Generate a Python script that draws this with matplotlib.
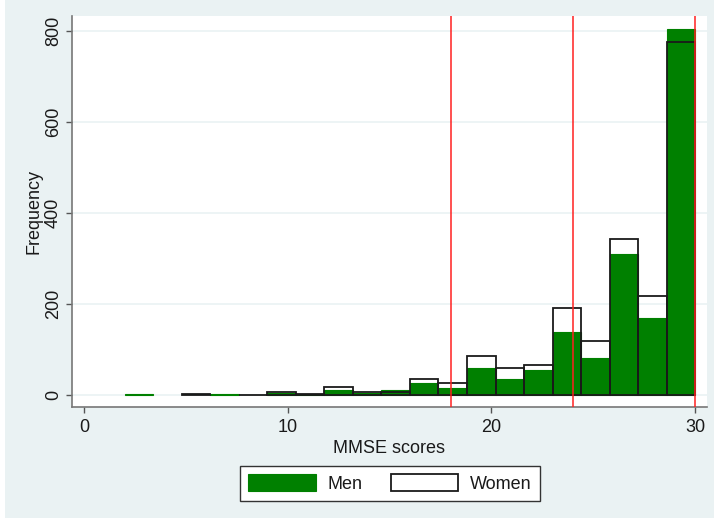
import numpy as np
import matplotlib
matplotlib.use("Agg")
import matplotlib.pyplot as plt
from matplotlib.patches import Patch, Rectangle

plt.rcParams['font.family'] = ['Liberation Sans', 'DejaVu Sans']

# histogram bins (start 2, width 1.4, 20 bins)
bin_start = 2.0
bin_width = 1.4
men = [2, 0, 0, 3, 0, 4, 2, 10, 5, 10, 27, 16, 60, 36, 54, 138, 82, 310, 170, 805]
women = [0, 0, 2, 0, 1, 6, 3, 18, 7, 7, 35, 27, 85, 60, 66, 191, 119, 342, 218, 775]
cutoffs = [18, 24, 30]
xticks = [0, 10, 20, 30]
yticks = [0, 200, 400, 600, 800]

bg = '#EAF2F3'
green = '#008000'
txt = '#1a1a1a'

W, H = 714, 518
fig = plt.figure(figsize=(W / 100, H / 100), dpi=100, facecolor='white')
fig.patches.append(Rectangle((5 / W, 0), 1, 1, transform=fig.transFigure,
                             facecolor=bg, edgecolor='none', zorder=-10))

ax = fig.add_axes([72 / W, 1 - 406.7 / H, (707 - 72) / W, (406.7 - 16) / H])
ax.set_facecolor('white')

left = bin_start + bin_width * np.arange(len(men))
men_h = np.array([v if v > 0 else np.nan for v in men], dtype=float)
women_h = np.array([v if v > 0 else np.nan for v in women], dtype=float)

ax.bar(left, men_h, width=bin_width, align='edge', color=green,
       edgecolor=green, linewidth=0.8, zorder=2)
ax.bar(left, women_h, width=bin_width, align='edge', facecolor='none',
       edgecolor=txt, linewidth=1.3, zorder=3)

for c in cutoffs:
    ax.axvline(c, color='#ff2020', linewidth=1.1, zorder=4)

ax.set_xlim(-0.59, 30.58)
ax.set_ylim(-25.7, 833)
ax.set_xticks(xticks)
ax.set_yticks(yticks)
ax.yaxis.grid(True, color=bg, linewidth=1.2, zorder=0)
ax.set_axisbelow(True)

for s in ['top', 'right']:
    ax.spines[s].set_visible(False)
for s in ['left', 'bottom']:
    ax.spines[s].set_color('#777777')
    ax.spines[s].set_linewidth(1.2)

ax.tick_params(axis='both', direction='out', length=4.3, width=1,
               color='#555555', labelsize=13, labelcolor=txt)
ax.tick_params(axis='x', pad=4.5)
ax.tick_params(axis='y', pad=3, labelrotation=90)
for lab in ax.get_yticklabels():
    lab.set_va('center')

fig.text(389 / W, 1 - 453 / H, 'MMSE scores', ha='center', va='baseline',
         fontsize=13, color=txt)
fig.text(33.5 / W, 1 - 211 / H, 'Frequency', ha='center', va='center',
         rotation=90, fontsize=13, color=txt)

handles = [Patch(facecolor=green, edgecolor=green, linewidth=0.8, label='Men'),
           Patch(facecolor='white', edgecolor=txt, linewidth=1.3, label='Women')]
leg = fig.legend(handles=handles, loc='center', ncol=2,
                 bbox_to_anchor=(390 / W, 1 - 483.5 / H), fontsize=13,
                 handlelength=3.75, handleheight=1.0, handletextpad=0.66,
                 columnspacing=1.55, borderpad=0.45, borderaxespad=0,
                 fancybox=False, framealpha=1, edgecolor='#333333',
                 labelcolor=txt)
leg.get_frame().set_linewidth(1.0)

fig.savefig('out.png', dpi=100, facecolor=fig.get_facecolor())
